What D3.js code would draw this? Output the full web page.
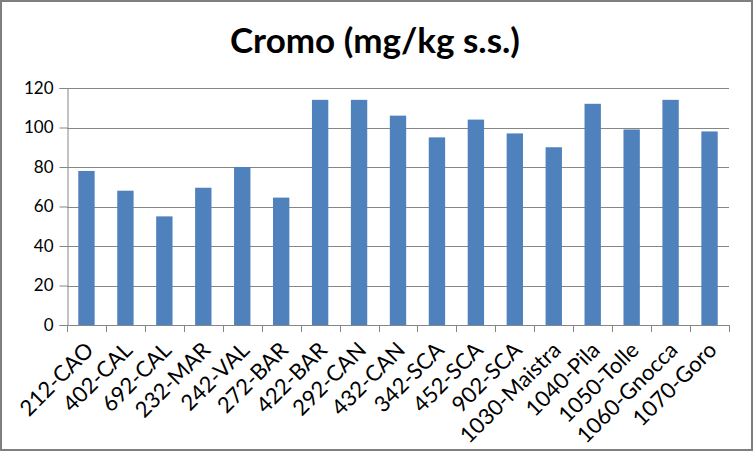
<!DOCTYPE html>
<html>
<head>
<meta charset="utf-8">
<script src="https://cdn.jsdelivr.net/npm/d3@7"></script>
<style>
html,body{margin:0;padding:0;background:#fff;}
svg{display:block;}
</style>
</head>
<body>
<svg id="chart" width="753" height="451"></svg>
<script>
const title = "Cromo (mg/kg s.s.)";
const categories = ["212-CAO","402-CAL","692-CAL","232-MAR","242-VAL","272-BAR","422-BAR","292-CAN","432-CAN","342-SCA","452-SCA","902-SCA","1030-Maistra","1040-Pila","1050-Tolle","1060-Gnocca","1070-Goro"];
const values = [78,68,55,69.5,80,64.5,114,114,106,95,104,97,90,112,99,114,98];
const yTicks = [0,20,40,60,80,100,120];

const svg = d3.select("#chart");
const W = 753, H = 451;
const m = {left:67, right:24, top:88, bottom:126};

svg.append("rect").attr("x",1).attr("y",1).attr("width",W-2).attr("height",H-2)
  .attr("fill","#fff").attr("stroke","#7f7f7f").attr("stroke-width",2);

const x = d3.scaleBand().domain(categories).range([m.left, W-m.right]).paddingInner(0.58).paddingOuter(0.29);
const y = d3.scaleLinear().domain([0,120]).range([H-m.bottom, m.top]);

// gridlines
svg.append("g").selectAll("line").data(yTicks.filter(d=>d>0)).join("line")
  .attr("x1",m.left).attr("x2",W-m.right)
  .attr("y1",d=>Math.round(y(d))+0.5).attr("y2",d=>Math.round(y(d))+0.5)
  .attr("stroke","#868686").attr("stroke-width",1);

// bars
svg.append("g").selectAll("rect").data(values).join("rect")
  .attr("x",(d,i)=>x(categories[i]))
  .attr("width",x.bandwidth())
  .attr("y",d=>y(d))
  .attr("height",d=>y(0)-y(d))
  .attr("fill","#4f81bd");

// y axis
const yAxis = d3.axisLeft(y).tickValues(yTicks).tickSize(8).tickPadding(6);
const gy = svg.append("g").attr("transform",`translate(${m.left+0.5},0)`).call(yAxis);
gy.select(".domain").attr("stroke","#868686");
gy.selectAll(".tick line").attr("stroke","#868686");
gy.selectAll(".tick text").attr("font-family","Lato, 'Open Sans', sans-serif").attr("font-size",17).attr("fill","#000");

// x axis
const boundaries = d3.range(categories.length+1).map(i=>m.left + i*(W-m.right-m.left)/categories.length);
const gx = svg.append("g");
gx.append("line").attr("x1",m.left).attr("x2",W-m.right)
  .attr("y1",Math.round(y(0))+0.5).attr("y2",Math.round(y(0))+0.5).attr("stroke","#868686");
gx.selectAll("line.tk").data(boundaries).join("line").attr("class","tk")
  .attr("x1",d=>Math.round(d)+0.5).attr("x2",d=>Math.round(d)+0.5)
  .attr("y1",Math.round(y(0))).attr("y2",Math.round(y(0))+7).attr("stroke","#868686");
gx.selectAll("text").data(categories).join("text")
  .attr("transform",d=>`translate(${x(d)+x.bandwidth()/2+3},${y(0)+21}) rotate(-45)`)
  .attr("text-anchor","end")
  .attr("dy","0.35em")
  .attr("font-family","Lato, 'Open Sans', sans-serif")
  .attr("font-size",22)
  .attr("fill","#000")
  .text(d=>d);

// title
svg.append("text").attr("x",375).attr("y",53).attr("text-anchor","middle")
  .attr("font-family","Lato, 'Open Sans', sans-serif").attr("font-weight","bold")
  .attr("font-size",35).attr("fill","#000").text(title);
</script>
</body>
</html>
